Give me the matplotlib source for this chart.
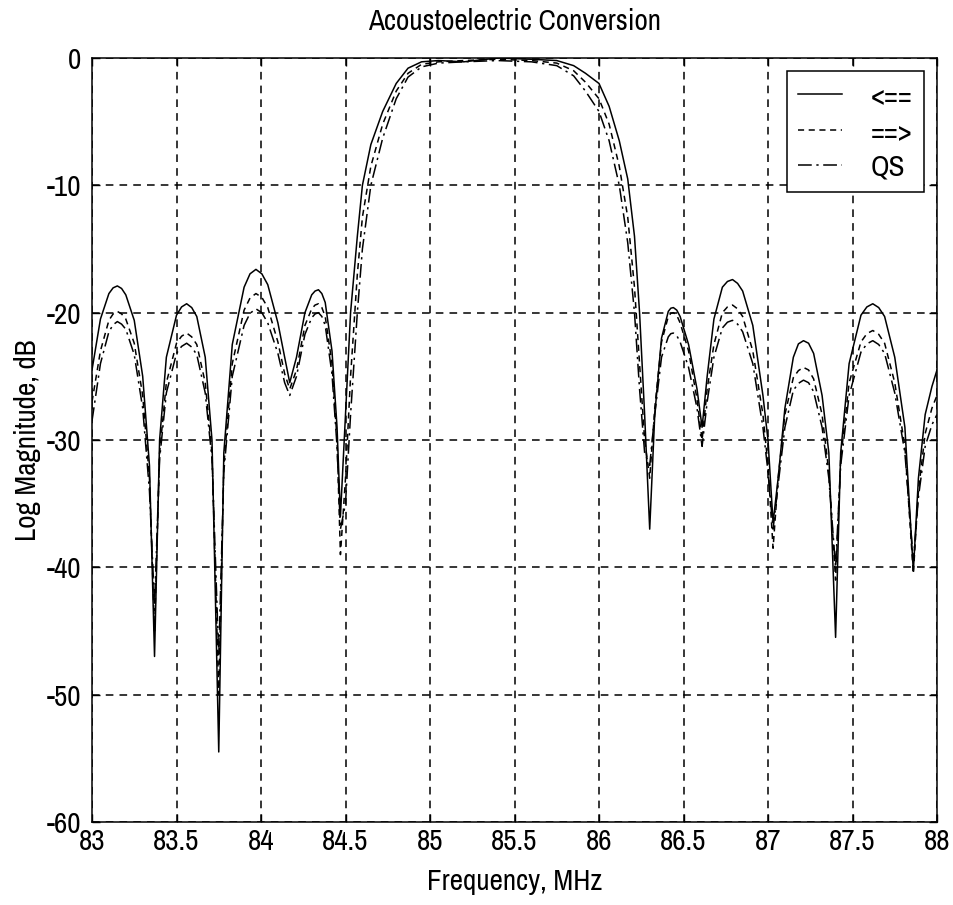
import matplotlib
matplotlib.use("Agg")
import matplotlib.pyplot as plt
from matplotlib import font_manager

# ---------------- data ----------------
freq = [
    83.00, 83.05, 83.10, 83.125, 83.15, 83.175, 83.20, 83.25, 83.30, 83.34, 83.37,
    83.40, 83.44, 83.50, 83.53, 83.56, 83.59, 83.62, 83.67, 83.71, 83.75,
    83.78, 83.83, 83.90, 83.935, 83.97, 84.005, 84.04, 84.10, 84.14, 84.17,
    84.21, 84.26, 84.30, 84.32, 84.34, 84.36, 84.38, 84.42, 84.45,
    84.47, 84.50, 84.53, 84.57, 84.60, 84.65, 84.72, 84.80, 84.87, 84.95,
    85.05, 85.20, 85.40, 85.60, 85.75, 85.85, 85.92, 86.00, 86.06, 86.12,
    86.17, 86.21, 86.24, 86.27, 86.30,
    86.33, 86.37, 86.41, 86.425, 86.44, 86.46, 86.48, 86.53, 86.58, 86.61,
    86.64, 86.68, 86.73, 86.76, 86.79, 86.82, 86.85, 86.91, 86.97, 87.00, 87.03,
    87.06, 87.10, 87.15, 87.18, 87.21, 87.24, 87.27, 87.32, 87.36, 87.40,
    87.43, 87.48, 87.55, 87.585, 87.62, 87.655, 87.69, 87.75, 87.81, 87.86,
    87.89, 87.93, 87.97, 88.00,
]

left_db = [  # "<=="
    -24.5, -20.5, -18.5, -18.05, -17.9, -18.1, -18.6, -20.6, -25.0, -32.0, -47.0,
    -30.0, -23.5, -20.2, -19.55, -19.3, -19.6, -20.3, -23.5, -30.0, -54.5,
    -31.0, -22.5, -18.0, -16.95, -16.6, -16.95, -17.8, -20.8, -23.5, -25.5,
    -23.5, -20.0, -18.6, -18.3, -18.2, -18.5, -19.2, -23.0, -29.0,
    -36.0, -28.0, -20.0, -14.0, -10.0, -6.8, -4.2, -2.0, -0.8, -0.3,
    -0.2, -0.3, 0.0, -0.1, -0.2, -0.6, -1.2, -2.0, -3.8, -6.5,
    -9.5, -14.0, -20.0, -28.0, -37.0,
    -28.0, -22.0, -19.9, -19.65, -19.6, -19.8, -20.3, -22.5, -26.0, -29.0,
    -25.0, -20.5, -18.0, -17.55, -17.4, -17.7, -18.3, -21.0, -26.5, -30.0, -36.5,
    -33.0, -27.5, -23.5, -22.45, -22.2, -22.4, -23.2, -26.5, -31.0, -45.5,
    -31.0, -24.0, -20.2, -19.55, -19.3, -19.6, -20.3, -23.5, -29.0, -40.3,
    -33.0, -28.0, -25.8, -24.5,
]

right_db = [  # "==>"
    -27.0, -23.0, -20.6, -20.1, -19.9, -20.1, -20.5, -22.4, -26.5, -33.0, -45.0,
    -31.0, -25.5, -22.4, -21.85, -21.6, -21.9, -22.5, -25.5, -31.0, -50.0,
    -32.0, -24.0, -19.8, -18.85, -18.5, -18.8, -19.6, -22.3, -24.8, -26.0,
    -24.5, -21.0, -19.7, -19.4, -19.3, -19.6, -20.3, -24.0, -30.0,
    -39.0, -33.0, -25.0, -17.0, -12.5, -8.5, -5.2, -2.6, -1.2, -0.5,
    -0.3, -0.2, -0.1, -0.2, -0.4, -1.0, -1.9, -3.2, -5.2, -8.5,
    -12.5, -18.0, -24.0, -30.0, -33.0,
    -27.5, -22.3, -20.3, -20.05, -20.0, -20.2, -20.8, -23.0, -26.8, -30.0,
    -26.0, -22.5, -20.0, -19.55, -19.4, -19.7, -20.3, -23.0, -28.0, -32.0, -38.5,
    -33.0, -28.0, -25.1, -24.55, -24.3, -24.5, -25.2, -28.0, -32.5, -41.0,
    -31.5, -25.5, -22.3, -21.65, -21.4, -21.7, -22.4, -25.5, -30.5, -40.5,
    -34.0, -29.5, -27.5, -26.5,
]

qs_db = [  # "QS"
    -28.5, -24.0, -21.5, -20.95, -20.7, -20.9, -21.3, -23.3, -27.5, -34.0, -43.0,
    -31.5, -26.3, -23.2, -22.65, -22.4, -22.7, -23.3, -26.3, -31.5, -47.0,
    -32.5, -25.0, -21.0, -20.05, -19.7, -20.0, -20.8, -23.2, -25.5, -26.5,
    -25.0, -21.7, -20.4, -20.1, -20.0, -20.3, -21.0, -24.8, -30.5,
    -37.0, -35.0, -28.0, -20.0, -15.0, -10.0, -6.3, -3.2, -1.5, -0.7,
    -0.4, -0.3, -0.2, -0.3, -0.6, -1.4, -2.6, -4.2, -6.5, -10.0,
    -14.5, -20.0, -26.0, -31.0, -32.0,
    -28.0, -23.5, -21.9, -21.65, -21.6, -21.8, -22.3, -24.3, -27.5, -30.5,
    -27.0, -23.5, -21.2, -20.75, -20.6, -20.9, -21.5, -24.0, -29.0, -32.5, -37.0,
    -33.5, -29.0, -26.1, -25.55, -25.3, -25.5, -26.2, -29.0, -33.0, -40.0,
    -32.0, -26.5, -23.1, -22.45, -22.2, -22.5, -23.2, -26.3, -31.0, -39.5,
    -34.5, -30.5, -28.8, -28.0,
]

series_labels = ["<==", "==>", "QS"]
xticks = [83, 83.5, 84, 84.5, 85, 85.5, 86, 86.5, 87, 87.5, 88]
xtick_labels = ["83", "83.5", "84", "84.5", "85", "85.5", "86", "86.5", "87", "87.5", "88"]
yticks = [-60, -50, -40, -30, -20, -10, 0]
ytick_labels = ["-60", "-50", "-40", "-30", "-20", "-10", "0"]

# ---------------- font choice ----------------
narrow = None
for f in font_manager.fontManager.ttflist:
    if "Narrow" in f.name and f.style == "normal" and f.weight in (400, "normal", "regular"):
        narrow = (f.name, f.stretch)
        break
if narrow is None:
    for f in font_manager.fontManager.ttflist:
        if f.stretch in ("condensed", "semi-condensed") and f.style == "normal" and f.weight in (400, "normal", "regular"):
            narrow = (f.name, f.stretch)
            break
if narrow is not None:
    plt.rcParams["font.family"] = [narrow[0], "DejaVu Sans"]
    plt.rcParams["font.stretch"] = narrow[1]
    FS = 21
else:
    plt.rcParams["font.family"] = ["Liberation Sans", "DejaVu Sans"]
    FS = 18

fig = plt.figure(figsize=(9.54, 9.05), dpi=100)
ax = fig.add_axes([92 / 954, 1 - 822 / 905, 845 / 954, 764 / 905])

ax.plot(freq, left_db, color="black", lw=1.1, ls="-", label=series_labels[0])
ax.plot(freq, right_db, color="black", lw=1.1, ls=(0, (4, 3)), label=series_labels[1])
ax.plot(freq, qs_db, color="black", lw=1.1, ls=(0, (9, 3, 1.5, 3)), label=series_labels[2])

ax.set_xlim(83, 88)
ax.set_ylim(-60, 0)
ax.set_xticks(xticks)
ax.set_xticklabels(xtick_labels, fontsize=FS)
ax.set_yticks(yticks)
ax.set_yticklabels(ytick_labels, fontsize=FS)
ax.tick_params(direction="in", length=6, width=1, top=True, right=True)
ax.tick_params(axis="y", pad=8)
ax.tick_params(axis="x", pad=4)
ax.grid(True, color="black", ls=(0, (5, 4)), lw=1.1)
for s in ax.spines.values():
    s.set_linewidth(1.1)

ax.set_title("Acoustoelectric Conversion", fontsize=FS, pad=20)
ax.set_xlabel("Frequency, MHz", fontsize=FS, labelpad=10)
ax.set_ylabel("Log Magnitude, dB", fontsize=FS, labelpad=4)

leg = ax.legend(loc="upper right", fontsize=FS, frameon=True, fancybox=False,
                edgecolor="black", framealpha=1, handlelength=1.5,
                borderaxespad=0.45, labelspacing=0.3, handletextpad=1.0,
                borderpad=0.38)
leg.get_frame().set_linewidth(1.1)

fig.savefig("out.png", dpi=100, facecolor="white")
